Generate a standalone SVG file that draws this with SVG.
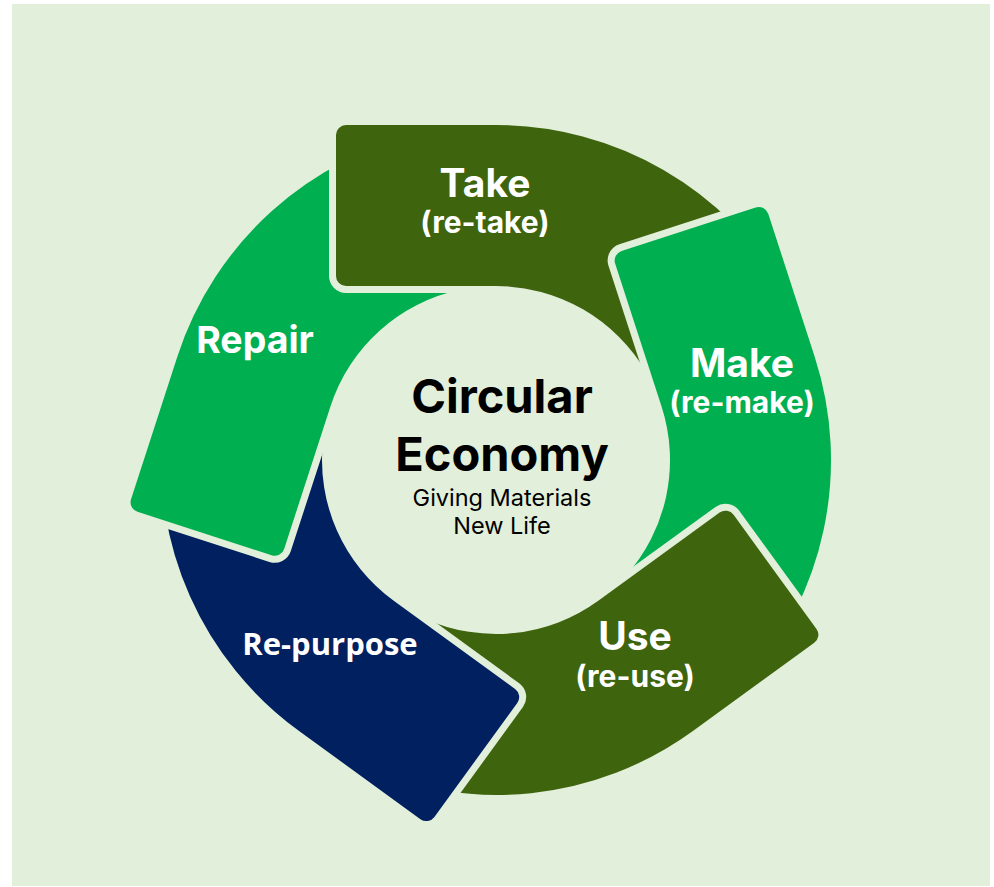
<svg xmlns="http://www.w3.org/2000/svg" xmlns:xlink="http://www.w3.org/1999/xlink" width="994" height="887" viewBox="0 0 994 887">
  <style>
    .seg { stroke: #E2EFDA; stroke-width: 14; stroke-linejoin: round; paint-order: stroke fill; }
    .dk { fill: #3E640D; }
    .gr { fill: #00AF50; }
    .nv { fill: #002060; }
    .lbl { font-family: Inter, "Noto Sans", sans-serif; font-weight: 700; fill: #FFFFFF; text-anchor: middle; }
    .big { font-size: 39px; }
    .sub { font-size: 30px; }
    .ctr { font-family: Inter, "Noto Sans", sans-serif; fill: #000000; text-anchor: middle; }
  </style>
  <defs>
    <path id="piece" d="M -150 -335 H 0 A 335 335 0 0 1 290.1 -167.5 L 150.7 -87 A 174 174 0 0 0 0 -174 H -150 A 10 10 0 0 1 -160 -184 V -325 A 10 10 0 0 1 -150 -335 Z"/>
    <clipPath id="repairClip" clipPathUnits="userSpaceOnUse">
      <path clip-rule="evenodd" d="M 0 0 H 994 V 887 H 0 Z M 346 118 H 515 V 293 H 346 A 17 17 0 0 1 329 276 V 135 A 17 17 0 0 1 346 118 Z"/>
    </clipPath>
  </defs>
  <rect x="0" y="0" width="994" height="887" fill="#FFFFFF"/>
  <rect id="background" x="12" y="4" width="978" height="882" fill="#E2EFDA"/>

  <g id="take">
    <use xlink:href="#piece" href="#piece" class="seg dk" transform="translate(496 460)"/>
    <text class="lbl big" x="485" y="197">Take</text>
    <text class="lbl sub" x="485" y="233">(re-take)</text>
  </g>

  <g id="make">
    <use xlink:href="#piece" href="#piece" class="seg gr" transform="translate(496 460) rotate(72)"/>
    <text class="lbl big" x="742" y="377">Make</text>
    <text class="lbl sub" x="742" y="413">(re-make)</text>
  </g>

  <g id="use">
    <use xlink:href="#piece" href="#piece" class="seg dk" transform="translate(496 460) rotate(144)"/>
    <text class="lbl big" x="635" y="650">Use</text>
    <text class="lbl sub" x="635" y="687">(re-use)</text>
  </g>

  <g id="repurpose">
    <use xlink:href="#piece" href="#piece" class="seg nv" transform="translate(496 460) rotate(216)"/>
    <text x="330" y="655" style="font-family: 'Open Sans', 'Noto Sans', sans-serif; font-weight: 700; font-size: 31px; fill: #FFFFFF; text-anchor: middle;">Re-purpose</text>
  </g>

  <g id="repair">
    <g clip-path="url(#repairClip)">
      <use xlink:href="#piece" href="#piece" class="seg gr" transform="translate(496 460) rotate(288)"/>
    </g>
    <text class="lbl" x="255" y="353" style="font-size: 37.5px;">Repair</text>
  </g>

  <g id="center">
    <text class="ctr" x="502" y="413" style="font-size: 47px; font-weight: 700;">Circular</text>
    <text class="ctr" x="502" y="471" style="font-size: 47px; font-weight: 700;">Economy</text>
    <text class="ctr" x="502" y="506" style="font-size: 23.5px;">Giving Materials</text>
    <text class="ctr" x="502" y="534" style="font-size: 23.5px;">New Life</text>
  </g>

  <g id="connectors"></g>
</svg>
